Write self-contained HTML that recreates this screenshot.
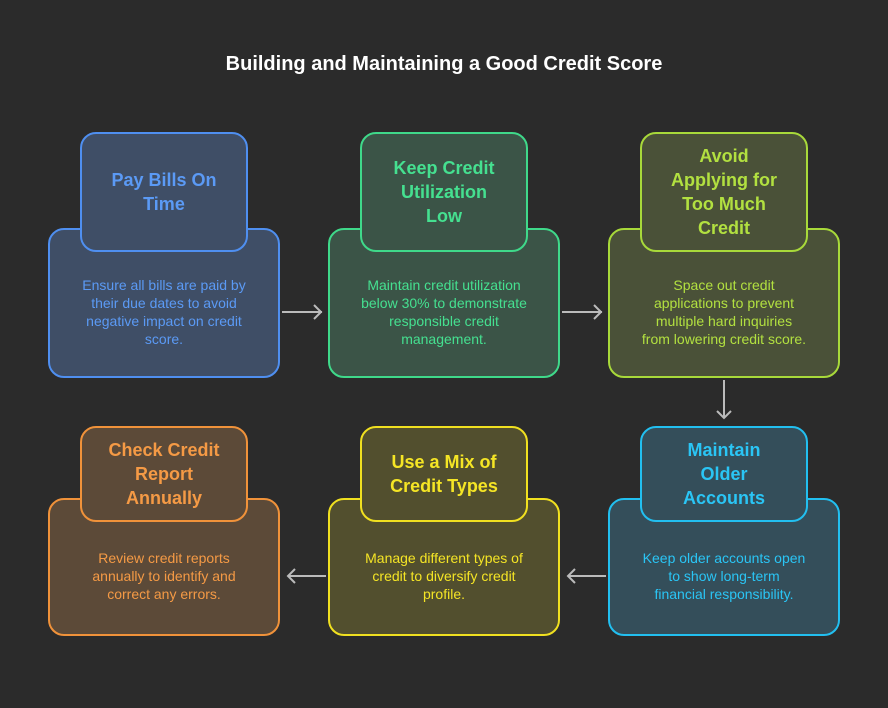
<!DOCTYPE html>
<html><head><meta charset="utf-8"><style>
body{margin:0;background:#2b2b2b;width:888px;height:708px;overflow:hidden;font-family:"Liberation Sans",sans-serif}
.b{position:absolute;box-sizing:border-box;border:2px solid;border-radius:16px;display:flex;align-items:center;justify-content:center;text-align:center;white-space:nowrap}
.o{width:232px;font-size:14px;line-height:18px;padding:0 4px}
.i{width:168px;font-size:18px;font-weight:bold;line-height:24px;padding:0 4px}
h1{position:absolute;top:53px;left:0;width:888px;text-align:center;margin:0;color:#fff;font-size:20px;font-weight:bold}
</style></head><body>
<h1>Building and Maintaining a Good Credit Score</h1>
<svg width="888" height="708" style="position:absolute;left:0;top:0" fill="none" stroke="#bbb" stroke-width="2">
<path d="M282 312H322M314 305l7 7-7 7"/>
<path d="M562 312H602M594 305l7 7-7 7"/>
<path d="M724 380V418M717 411l7 7 7-7"/>
<path d="M606 576H568M575 569l-7 7 7 7"/>
<path d="M326 576H288M295 569l-7 7 7 7"/>
</svg>
<div class="b o" style="left:48px;top:228px;height:150px;padding-top:18px;border-color:#4f8ff0;background:#3f4e66;color:#5b9af5">Ensure all bills are paid by<br>their due dates to avoid<br>negative impact on credit<br>score.</div>
<div class="b i" style="left:80px;top:132px;height:120px;border-color:#4f8ff0;background:#3f4e66;color:#5b9af5">Pay Bills On<br>Time</div>
<div class="b o" style="left:328px;top:228px;height:150px;padding-top:18px;border-color:#3fd98a;background:#3b5447;color:#45e090">Maintain credit utilization<br>below 30% to demonstrate<br>responsible credit<br>management.</div>
<div class="b i" style="left:360px;top:132px;height:120px;border-color:#3fd98a;background:#3b5447;color:#45e090">Keep Credit<br>Utilization<br>Low</div>
<div class="b o" style="left:608px;top:228px;height:150px;padding-top:18px;border-color:#a8d93a;background:#4a5138;color:#b2e040">Space out credit<br>applications to prevent<br>multiple hard inquiries<br>from lowering credit score.</div>
<div class="b i" style="left:640px;top:132px;height:120px;border-color:#a8d93a;background:#4a5138;color:#b2e040">Avoid<br>Applying for<br>Too Much<br>Credit</div>
<div class="b o" style="left:48px;top:498px;height:138px;padding-top:18px;border-color:#f0923a;background:#5c4a38;color:#f59a45">Review credit reports<br>annually to identify and<br>correct any errors.</div>
<div class="b i" style="left:80px;top:426px;height:96px;border-color:#f0923a;background:#5c4a38;color:#f59a45">Check Credit<br>Report<br>Annually</div>
<div class="b o" style="left:328px;top:498px;height:138px;padding-top:18px;border-color:#f0e020;background:#524f2e;color:#f5e525">Manage different types of<br>credit to diversify credit<br>profile.</div>
<div class="b i" style="left:360px;top:426px;height:96px;border-color:#f0e020;background:#524f2e;color:#f5e525">Use a Mix of<br>Credit Types</div>
<div class="b o" style="left:608px;top:498px;height:138px;padding-top:18px;border-color:#22bff0;background:#344e5a;color:#2ac5f5">Keep older accounts open<br>to show long-term<br>financial responsibility.</div>
<div class="b i" style="left:640px;top:426px;height:96px;border-color:#22bff0;background:#344e5a;color:#2ac5f5">Maintain<br>Older<br>Accounts</div>
</body></html>
